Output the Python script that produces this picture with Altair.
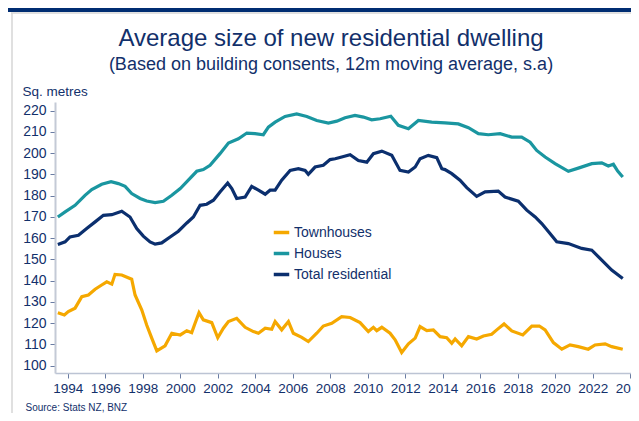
import altair as alt
import pandas as pd

# ---- data ----
town_x = [1993.47, 1993.82, 1994.03, 1994.39, 1994.75, 1995.10, 1995.46, 1995.81, 1996.08, 1996.35,
          1996.52, 1996.88, 1997.41, 1997.59, 1997.95, 1998.21, 1998.48, 1998.75, 1999.19, 1999.55,
          2000.00, 2000.35, 2000.61, 2000.79, 2001.00, 2001.23, 2001.68, 2002.00, 2002.30, 2002.57,
          2003.01, 2003.46, 2003.90, 2004.17, 2004.53, 2004.88, 2005.06, 2005.41, 2005.77, 2006.03,
          2006.48, 2006.83, 2007.28, 2007.63, 2008.08, 2008.61, 2009.06, 2009.59, 2010.03, 2010.30,
          2010.48, 2010.75, 2011.19, 2011.46, 2011.81, 2012.17, 2012.53, 2012.79, 2013.15, 2013.50,
          2013.86, 2014.21, 2014.48, 2014.66, 2015.01, 2015.37, 2015.81, 2016.17, 2016.61, 2016.88,
          2017.27, 2017.68, 2018.27, 2018.75, 2019.15, 2019.46, 2019.90, 2020.35, 2020.79, 2021.23,
          2021.76, 2022.12, 2022.66, 2023.01, 2023.60]
town_y = [124.9, 123.8, 125.4, 127.0, 132.4, 133.2, 135.9, 137.9, 139.4, 138.3,
          142.9, 142.6, 140.6, 133.2, 126.1, 119.1, 112.9, 106.9, 109.3, 115.2,
          114.4, 116.4, 115.5, 119.9, 124.9, 121.5, 120.2, 113.1, 117.6, 120.7,
          122.2, 118.0, 116.0, 115.2, 117.6, 117.1, 120.7, 116.8, 120.7, 115.2,
          113.3, 111.3, 115.2, 118.6, 119.9, 123.0, 122.6, 120.2, 116.0, 118.0,
          116.4, 118.0, 115.2, 112.1, 106.1, 110.2, 112.9, 118.3, 116.4, 116.8,
          113.6, 113.1, 110.5, 112.5, 109.3, 113.6, 112.5, 113.9, 114.7, 116.8,
          119.6, 116.3, 114.4, 118.6, 118.6, 116.8, 110.8, 107.7, 109.7, 108.9,
          107.7, 109.7, 110.2, 108.9, 107.7]

houses_x = [1993.47, 1993.86, 1994.39, 1994.92, 1995.28, 1995.81, 1996.31, 1996.70, 1997.06, 1997.41,
            1997.86, 1998.21, 1998.66, 1999.10, 1999.55, 2000.00, 2000.43, 2000.88, 2001.23, 2001.59,
            2002.12, 2002.57, 2003.10, 2003.55, 2003.99, 2004.43, 2004.70, 2005.06, 2005.59, 2006.21,
            2006.75, 2007.28, 2007.90, 2008.35, 2008.79, 2009.32, 2009.77, 2010.21, 2010.66, 2011.23,
            2011.63, 2012.17, 2012.70, 2013.41, 2014.12, 2014.83, 2015.37, 2015.90, 2016.43, 2017.06,
            2017.68, 2018.21, 2018.66, 2019.01, 2019.46, 2019.99, 2020.70, 2021.23, 2021.95, 2022.48,
            2022.83, 2023.10, 2023.33, 2023.60]
houses_y = [169.9, 172.3, 175.4, 180.1, 182.8, 185.3, 186.5, 185.6, 184.3, 180.9,
            178.6, 177.4, 176.7, 177.3, 180.1, 183.3, 187.2, 191.4, 192.2, 194.2,
            199.7, 204.7, 206.7, 209.4, 209.1, 208.6, 212.2, 214.5, 217.2, 218.4,
            217.2, 215.3, 214.1, 215.0, 216.6, 217.7, 216.9, 215.6, 216.1, 217.3,
            213.0, 211.4, 215.3, 214.5, 214.2, 213.7, 211.9, 209.1, 208.6, 209.1,
            207.5, 207.5, 205.1, 201.2, 198.1, 195.0, 191.4, 192.9, 195.0, 195.4,
            193.9, 194.7, 191.5, 188.7]

total_x = [1993.47, 1993.86, 1994.12, 1994.57, 1995.01, 1995.46, 1995.90, 1996.35, 1996.88, 1997.32,
           1997.68, 1998.03, 1998.39, 1998.66, 1999.01, 1999.46, 1999.90, 2000.35, 2000.70, 2001.06,
           2001.41, 2001.77, 2002.12, 2002.53, 2002.75, 2003.01, 2003.46, 2003.81, 2004.17, 2004.53,
           2004.79, 2005.06, 2005.41, 2005.86, 2006.30, 2006.66, 2006.83, 2007.19, 2007.63, 2007.99,
           2008.26, 2008.61, 2009.06, 2009.50, 2009.95, 2010.30, 2010.75, 2011.28, 2011.72, 2012.17,
           2012.53, 2012.79, 2013.23, 2013.68, 2013.95, 2014.12, 2014.48, 2014.92, 2015.28, 2015.81,
           2016.26, 2016.96, 2017.32, 2018.03, 2018.48, 2018.93, 2019.28, 2019.72, 2020.08, 2020.70,
           2021.41, 2021.95, 2022.48, 2023.01, 2023.60]
total_y = [157.0, 158.2, 160.5, 161.3, 164.5, 167.6, 170.7, 171.0, 172.6, 169.9,
           164.5, 160.9, 158.2, 157.1, 157.7, 160.5, 163.2, 167.1, 169.9, 175.4,
           175.9, 177.8, 181.7, 185.9, 183.3, 178.6, 179.3, 184.3, 182.5, 180.6,
           182.5, 182.5, 187.2, 191.8, 192.6, 191.8, 190.0, 193.4, 194.2, 196.9,
           197.3, 198.1, 199.2, 196.5, 195.7, 199.7, 200.9, 198.9, 191.8, 191.0,
           193.4, 197.3, 198.9, 197.8, 192.6, 192.2, 190.3, 187.2, 183.7, 179.6,
           181.7, 182.1, 179.3, 177.3, 173.1, 169.9, 166.8, 162.1, 158.2, 157.4,
           155.1, 154.3, 149.6, 144.9, 141.0]

series_names = ["Townhouses", "Houses", "Total residential"]
series_colors = ["#f5a800", "#1a96a0", "#0b2f6e"]
y_ticks = list(range(100, 221, 10))
x_ticks = list(range(1994, 2025, 2))
title_text = ["Average size of new residential dwelling"]
subtitle_text = ["(Based on building consents, 12m moving average, s.a)"]

rows = []
for name, xs, ys in [("Townhouses", town_x, town_y), ("Houses", houses_x, houses_y),
                     ("Total residential", total_x, total_y)]:
    for a, b in zip(xs, ys):
        rows.append({"year": a, "value": b, "series": name})
df = pd.DataFrame(rows)

NAVY = "#12306b"
FONT = "Liberation Sans"

lines = alt.Chart(df).mark_line(strokeWidth=3.2).encode(
    x=alt.X("year:Q",
            scale=alt.Scale(domain=[1993.32, 2024.04], nice=False, zero=False),
            axis=alt.Axis(values=x_ticks, format="d", grid=False, tickSize=5,
                          labelPadding=3, labelFontSize=13.5, labelColor=NAVY, labelFont=FONT,
                          domainColor="#bcc4d4", domainWidth=1.5, tickColor="#6a7ca3",
                          labelFlush=False, labelOverlap=False,
                          title="Source: Stats NZ, BNZ", titleFont=FONT, titleFontSize=10,
                          titleFontWeight="normal", titleColor=NAVY, titleAnchor="start",
                          titleAlign="left", titleX=-30, titleY=34, titleBaseline="middle")),
    y=alt.Y("value:Q",
            scale=alt.Scale(domain=[96.5, 224], nice=False, zero=False),
            axis=alt.Axis(values=y_ticks, grid=False, tickSize=5, labelPadding=4,
                          labelFontSize=14, labelColor=NAVY, labelFont=FONT,
                          domainColor="#c4cad6", domainWidth=2, tickColor="#6a7ca3",
                          title="Sq. metres", titleFont=FONT, titleFontSize=13.5,
                          titleFontWeight="normal", titleColor=NAVY, titleAngle=0,
                          titleAlign="left", titleX=-33, titleY=-11, titleBaseline="middle")),
    color=alt.Color("series:N",
                    scale=alt.Scale(domain=series_names, range=series_colors),
                    sort=series_names,
                    legend=alt.Legend(title=None, orient="none", legendX=217, legendY=121,
                                      symbolType="stroke", symbolSize=240, symbolStrokeWidth=3.5,
                                      labelFont=FONT, labelFontSize=14, labelColor=NAVY,
                                      labelOffset=3, rowPadding=4, padding=0)),
    detail="series:N",
)

one = pd.DataFrame({"k": [0]})
header = alt.Chart(one).mark_rect(color="#002d72").encode(
    x=alt.value(-47), x2=alt.value(580), y=alt.value(-94), y2=alt.value(-90))
frame_v = alt.Chart(one).mark_rule(color="#d6d6d6", strokeWidth=1.5).encode(
    x=alt.value(-43), y=alt.value(-89), y2=alt.value(320))
frame_h = alt.Chart(one).mark_rule(color="#d6d6d6", strokeWidth=1.5).encode(
    x=alt.value(-44), x2=alt.value(580), y=alt.value(-89))

title = alt.Chart(pd.DataFrame({"t": title_text})).mark_text(
    font=FONT, fontSize=24, color=NAVY, align="center", baseline="alphabetic").encode(
    text="t:N", x=alt.value(276), y=alt.value(-56))
subtitle = alt.Chart(pd.DataFrame({"t": subtitle_text})).mark_text(
    font=FONT, fontSize=18, color=NAVY, align="center", baseline="alphabetic").encode(
    text="t:N", x=alt.value(276), y=alt.value(-32.5))

chart = alt.layer(header, frame_v, frame_h, title, subtitle, lines).properties(
    width=576, height=271,
    autosize=alt.AutoSizeParams(type="none"),
    padding={"left": 47, "top": 94, "right": 0, "bottom": 40},
).configure_view(stroke=None)

chart.save("out.html", embed_options={"renderer": "svg", "actions": False})
